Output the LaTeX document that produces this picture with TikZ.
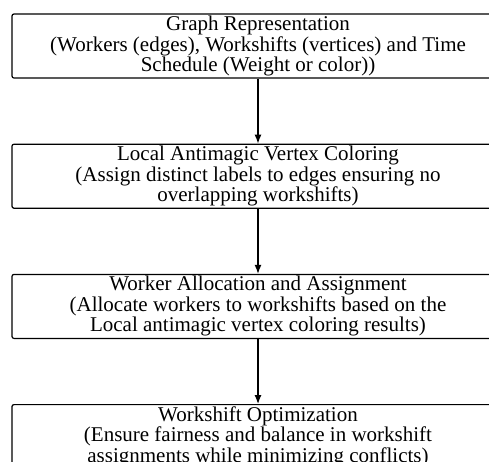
\documentclass[tikz,border=0pt]{standalone}
\usepackage{fontspec}
\setmainfont{Liberation Serif}
\usetikzlibrary{arrows.meta,positioning}

\begin{document}
\begin{tikzpicture}[
    x=1pt, y=1pt,
    stagebox/.style={rectangle, draw, line width=1.2pt, rounded corners=2pt, minimum width=492pt, minimum height=64pt, inner sep=0pt, align=center, font=\fontsize{21}{20.5}\selectfont},
    arrow/.style={-{Latex[length=9pt,width=7pt]}, line width=1.2pt},
    node distance=65pt
  ]
    \useasboundingbox (0,0) rectangle (489,-461);

    \node[stagebox] (graph) at (258,-46) {Graph Representation\\(Workers (edges), Workshifts (vertices) and Time\\Schedule (Weight or color))};
    \node[stagebox, below=of graph] (coloring) {Local Antimagic Vertex Coloring\\(Assign distinct labels to edges ensuring no\\overlapping workshifts)};
    \node[stagebox, below=of coloring] (alloc) {Worker Allocation and Assignment\\(Allocate workers to workshifts based on the\\Local antimagic vertex coloring results)};
    \node[stagebox, below=of alloc] (optim) {Workshift Optimization\\(Ensure fairness and balance in workshift\\assignments while minimizing conflicts)};

    \draw[arrow] (graph) -- (coloring);
    \draw[arrow] (coloring) -- (alloc);
    \draw[arrow] (alloc) -- (optim);
  \end{tikzpicture}
\end{document}
